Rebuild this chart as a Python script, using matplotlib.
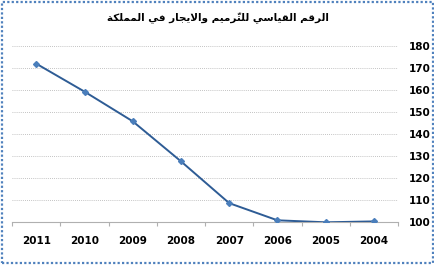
import matplotlib
matplotlib.use("Agg")
import matplotlib.pyplot as plt
from matplotlib.patches import Rectangle
import unicodedata

# ── Data ──────────────────────────────────────────────────────────────────────
years  = ["2004", "2005", "2006", "2007", "2008", "2009", "2010", "2011"]
values = [100.3, 99.9, 100.8, 108.6, 127.6, 145.8, 159.3, 172.0]
y_ticks = [100, 110, 120, 130, 140, 150, 160, 170, 180]
title = "الرقم القياسي للتّرميم والايجار في المملكة"

# ── Minimal Arabic shaping (matplotlib has no text shaping) ──────────────────
# letter: (isolated, final, initial, medial); None = joins only to the right
FORMS = {
    "ا": ("\uFE8D", "\uFE8E", None, None),
    "ة": ("\uFE93", "\uFE94", None, None),
    "ت": ("\uFE95", "\uFE96", "\uFE97", "\uFE98"),
    "ج": ("\uFE9D", "\uFE9E", "\uFE9F", "\uFEA0"),
    "ر": ("\uFEAD", "\uFEAE", None, None),
    "س": ("\uFEB1", "\uFEB2", "\uFEB3", "\uFEB4"),
    "ف": ("\uFED1", "\uFED2", "\uFED3", "\uFED4"),
    "ق": ("\uFED5", "\uFED6", "\uFED7", "\uFED8"),
    "ك": ("\uFED9", "\uFEDA", "\uFEDB", "\uFEDC"),
    "ل": ("\uFEDD", "\uFEDE", "\uFEDF", "\uFEE0"),
    "م": ("\uFEE1", "\uFEE2", "\uFEE3", "\uFEE4"),
    "و": ("\uFEED", "\uFEEE", None, None),
    "ي": ("\uFEF1", "\uFEF2", "\uFEF3", "\uFEF4"),
}


def shape_arabic(text):
    # split into clusters (base + combining marks)
    clusters = []
    for ch in text:
        if unicodedata.combining(ch) and clusters:
            clusters[-1][1] += ch
        else:
            clusters.append([ch, ""])
    # lam-alef ligature
    merged = []
    for c in clusters:
        if merged and merged[-1][0] == "ل" and c[0] == "ا" and not merged[-1][1]:
            merged[-1][0] = "لا"
        else:
            merged.append(c)
    out = []
    for i, (base, marks) in enumerate(merged):
        prev = merged[i - 1][0] if i > 0 else None
        nxt = merged[i + 1][0] if i + 1 < len(merged) else None
        joins_prev = prev in FORMS and FORMS[prev][2] is not None and prev != "لا"
        if base == "لا":
            out.append(marks + ("\uFEFC" if joins_prev else "\uFEFB"))
            continue
        if base not in FORMS:
            out.append(marks + base)
            continue
        iso, fin, ini, med = FORMS[base]
        joins_next = ini is not None and nxt in FORMS
        if joins_prev and joins_next:
            g = med
        elif joins_prev:
            g = fin
        elif joins_next:
            g = ini
        else:
            g = iso
        # mark goes before its base in visual (left-to-right) order
        out.append(marks + g)
    return "".join(out[::-1])


# ── Style ─────────────────────────────────────────────────────────────────────
LINE   = "#2E5C95"
MARKER = "#4A7EBB"
GRID   = "#B0B0B0"
TEXT   = "#000000"

fig = plt.figure(figsize=(4.35, 2.65), dpi=100)
fig.patch.set_facecolor("white")
ax = fig.add_axes([0.028, 0.162, 0.887, 0.664])

x = list(range(len(years)))
ax.plot([i + 0.5 for i in x], values, color=LINE, linewidth=1.4,
        marker="D", markersize=3, markerfacecolor=MARKER,
        markeredgecolor=MARKER, zorder=3)

ax.set_xlim(0, len(years))
ax.invert_xaxis()
ax.set_ylim(100, 180)
ax.set_yticks(y_ticks)
ax.yaxis.tick_right()
ax.tick_params(axis="y", length=0, pad=8, labelsize=7.5, colors=TEXT)
for lbl in ax.get_yticklabels():
    lbl.set_fontweight("bold")

ax.set_xticks(x + [len(years)])
ax.set_xticklabels([])
ax.set_xticks([i + 0.5 for i in x], minor=True)
ax.set_xticklabels(years, minor=True, fontsize=7.5, fontweight="bold", color=TEXT)
ax.tick_params(axis="x", which="major", length=3, color=GRID, direction="out")
ax.tick_params(axis="x", which="minor", length=0, pad=10)

ax.grid(axis="y", color=GRID, linestyle=(0, (1, 1.5)), linewidth=0.6)
for side in ("top", "left", "right"):
    ax.spines[side].set_visible(False)
ax.spines["bottom"].set_color(GRID)
ax.spines["bottom"].set_linewidth(0.8)

fig.text(0.5, 0.93, shape_arabic(title), ha="center", va="center",
         fontsize=7.5, fontweight="bold", family="DejaVu Sans", color=TEXT)

# dotted blue frame round the chart area
fig.patches.append(Rectangle((0.004, 0.006), 0.992, 0.988, transform=fig.transFigure,
                             fill=False, edgecolor="#4F81BD", linewidth=1.6,
                             linestyle=(0, (1, 1))))

fig.savefig("out.png", dpi=100, facecolor="white")
